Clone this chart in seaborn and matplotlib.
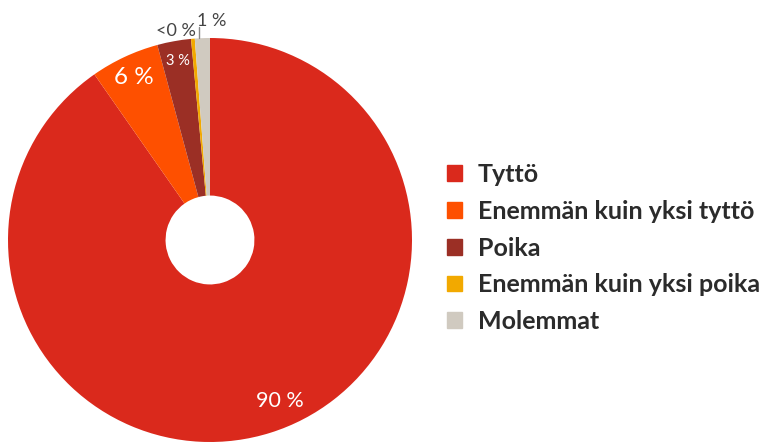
import numpy as np
import matplotlib
matplotlib.use("Agg")
import matplotlib.pyplot as plt
import seaborn as sns

categories = ["Tyttö", "Enemmän kuin yksi tyttö", "Poika",
              "Enemmän kuin yksi poika", "Molemmat"]
values = [90.3, 5.5, 2.7, 0.3, 1.2]
value_labels = ["90 %", "6 %", "3 %", "<0 %", "1 %"]
colors = ["#DA291C", "#FE5000", "#9B2F25", "#F2A900", "#D0CAC0"]

sns.set_theme(style="white")
plt.rcParams["font.family"] = ["Lato", "DejaVu Sans"]
palette = sns.color_palette(colors)

fig = plt.figure(figsize=(7.68, 4.43), dpi=100)
ax = fig.add_axes([8 / 768, 1 / 443, 404 / 768, 404 / 443])

wedges, _ = ax.pie(values, colors=palette, startangle=90, counterclock=False,
                   radius=1, wedgeprops=dict(width=0.78, linewidth=0))
ax.set_xlim(-1, 1)
ax.set_ylim(-1, 1)
ax.set_aspect("equal")
ax.axis("off")

# label placement: (radius, angle nudge, size, colour)
label_style = [
    (0.87, 6, 15.5, "white"),
    (0.89, 0, 17.5, "white"),
    (0.90, 0, 10.5, "white"),
    (None, None, 13, "#444444"),
    (None, None, 13, "#444444"),
]
outside_pos = {3: (-0.17, 1.035), 4: (0.01, 1.085)}

for i, (w, lab) in enumerate(zip(wedges, value_labels)):
    r, nudge, size, col = label_style[i]
    if r is not None:
        ang = np.deg2rad((w.theta1 + w.theta2) / 2 + nudge)
        x, y = r * np.cos(ang), r * np.sin(ang)
    else:
        x, y = outside_pos[i]
    ax.text(x, y, lab, ha="center", va="center", fontsize=size, color=col,
            clip_on=False)

# leader line for the small slice
ang = np.deg2rad((wedges[4].theta1 + wedges[4].theta2) / 2)
ax.plot([np.cos(ang) - 0.015] * 2, [1.0, 1.055], color="#888888", lw=1,
        clip_on=False)

handles = [plt.Rectangle((0, 0), 1, 1, color=c) for c in palette]
fig.legend(handles, categories, loc="center left",
           bbox_to_anchor=(424 / 768, 1 - 248 / 443), frameon=False,
           prop=dict(size=18, weight="bold"), labelcolor="#2b2b2b",
           handlelength=0.6, handleheight=0.6, handletextpad=0.65,
           labelspacing=0.55)

fig.savefig("out.png", dpi=100)
